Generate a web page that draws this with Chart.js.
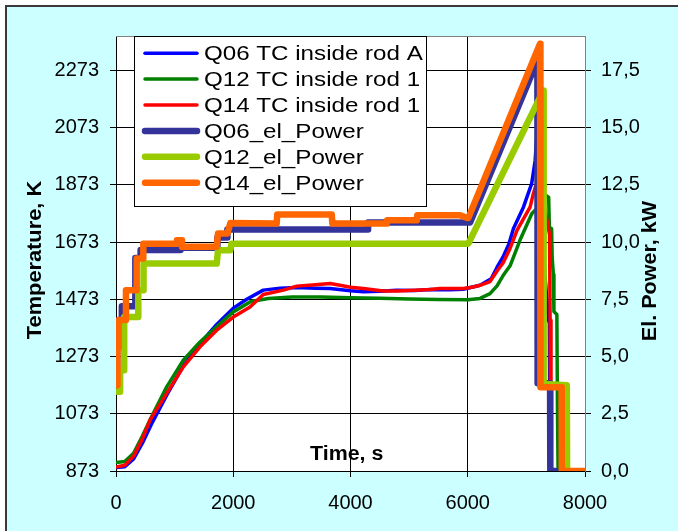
<!DOCTYPE html>
<html><head><meta charset="utf-8">
<script src="https://cdn.jsdelivr.net/npm/chart.js@4.4.0/dist/chart.umd.min.js"></script>
<style>html,body{margin:0;padding:0;background:#fff;}#wrap{position:relative;width:678px;height:532px;}</style>
</head><body><div id="wrap"><canvas id="c"></canvas></div>
<script>
// ---- data (time in s) ----
const seriesLabels = ["Q06 TC inside rod A","Q12 TC inside rod 1","Q14 TC inside rod 1","Q06_el_Power","Q12_el_Power","Q14_el_Power"];
const xTicks = [0,2000,4000,6000,8000];
const tempTicks = [873,1073,1273,1473,1673,1873,2073,2273];
const powerTicks = [0,2.5,5,7.5,10,12.5,15,17.5];

const q06TcTime = [0,150,300,450,600,865,1148,1433,1718,2001,2230,2513,2800,3083,3400,3651,4000,4219,4500,4789,5100,5357,5700,5925,6210,6400,6500,6600,6700,6780,6950,7090,7150,7180,7195,7215,7300,7378,7392,7405];
const q06TcTemp = [885,888,915,970,1035,1138,1240,1318,1385,1442,1473,1505,1512,1514,1512,1511,1503,1499,1501,1505,1504,1507,1506,1508,1522,1545,1585,1620,1665,1720,1795,1877,1958,2050,2070,1850,1600,1400,1390,800];

const q12TcTime = [0,150,300,450,600,865,1148,1433,1718,2001,2300,2600,3000,3500,4000,4500,5000,5500,6000,6210,6380,6500,6600,6722,6892,7092,7200,7340,7380,7392,7430,7440,7460,7470,7520,7530,7545];
const q12TcTemp = [903,906,935,995,1060,1167,1260,1324,1377,1429,1465,1476,1481,1481,1478,1477,1474,1472,1471,1476,1493,1520,1555,1590,1680,1772,1795,1835,1830,1725,1720,1620,1560,1430,1420,1100,800];

const q14TcTime = [0,150,300,450,580,865,1148,1433,1718,2001,2286,2513,2855,3083,3400,3651,3821,4000,4219,4555,4789,5100,5357,5527,5925,6091,6210,6380,6500,6602,6720,6840,7063,7119,7160,7250,7395,7405,7420];
const q14TcTemp = [887,893,925,985,1051,1144,1237,1307,1365,1411,1446,1490,1505,1519,1524,1528,1522,1515,1511,1502,1502,1505,1507,1511,1511,1516,1522,1535,1572,1600,1650,1714,1795,1842,1870,1860,1700,1400,800];

const q06PwTime = [0,20,20,40,40,100,100,330,330,420,420,1100,1100,1730,1730,1900,1900,4300,4300,6040,7188,7192,7404,7408,7500];
const q06PwKw   = [3.85,3.85,5.4,5.4,6.6,6.6,7.2,7.2,9.3,9.3,9.65,9.65,9.75,9.75,10.2,10.2,10.55,10.55,10.85,10.85,17.93,3.83,3.83,0,0];

const q12PwTime = [0,70,70,140,140,380,380,470,470,1718,1740,1950,1970,6010,7290,7295,7690,7695,7750];
const q12PwKw   = [3.46,3.46,4.4,4.4,6.73,6.73,7.9,7.9,9.06,9.06,9.64,9.64,9.93,9.93,16.62,3.8,3.75,0,0];

const q14PwTime = [0,25,25,45,45,170,170,353,353,466,466,1036,1040,1120,1125,1718,1740,1900,1950,2741,2750,3680,3690,4618,4625,5130,5140,5869,5990,6010,7233,7240,7600,7605,8000];
const q14PwKw   = [3.75,3.75,5.37,5.37,6.59,6.59,7.9,7.9,9.28,9.28,9.93,9.93,10.08,10.08,9.79,9.79,10.37,10.37,10.83,10.81,11.2,11.2,10.81,10.81,10.95,10.95,11.17,11.17,11.05,11.05,18.66,3.66,3.66,0,0];

function pts(t, v){ return t.map((x,i)=>({x:x, y:v[i]})); }

const FONT = '"Liberation Sans", Arial, sans-serif';

function ds(label, data, color, width, axis, order){
  return {label, data, borderColor:color, backgroundColor:color, borderWidth:width, yAxisID:axis,
    pointRadius:0, tension:0, order, borderCapStyle:'round', borderJoinStyle:'round', fill:false};
}

const decor = {
  id:'decor',
  beforeDraw(chart){
    const ctx = chart.ctx, a = chart.chartArea, W = chart.width, H = chart.height;
    ctx.save();
    ctx.fillStyle = '#ffffff'; ctx.fillRect(0,0,W,H);
    ctx.fillStyle = '#CCFFFF'; ctx.fillRect(6,6,W-6,H-7);
    ctx.strokeStyle = '#3a3a3a'; ctx.lineWidth = 2;
    ctx.beginPath(); ctx.moveTo(6,H-1); ctx.lineTo(6,6); ctx.lineTo(W,6); ctx.stroke();
    ctx.fillStyle = '#ffffff'; ctx.fillRect(a.left,a.top,a.right-a.left,a.bottom-a.top);
    ctx.restore();
  },
  afterDraw(chart){
    const ctx = chart.ctx, a = chart.chartArea;
    ctx.save();
    ctx.strokeStyle = '#808080'; ctx.lineWidth = 1;
    ctx.beginPath(); ctx.moveTo(a.left, a.top+0.5); ctx.lineTo(a.right, a.top+0.5); ctx.stroke();
    const lx = 134, ly = a.top, lw = 292, lh = 170;
    ctx.fillStyle = '#ffffff'; ctx.fillRect(lx, ly, lw, lh);
    ctx.strokeStyle = '#000000'; ctx.lineWidth = 1;
    ctx.strokeRect(lx+0.5, ly+0.5, lw, lh);
    chart.data.datasets.forEach((d,i)=>{
      const yb = 60 + i*25.9;
      const yl = yb - 6.8;
      ctx.strokeStyle = d.borderColor; ctx.lineWidth = d.borderWidth; ctx.lineCap = 'round';
      ctx.beginPath(); ctx.moveTo(145, yl); ctx.lineTo(197, yl); ctx.stroke();
      ctx.save();
      ctx.translate(204, yb); ctx.scale(1.15, 1);
      ctx.fillStyle = '#000'; ctx.font = '21px ' + FONT; ctx.textAlign = 'left'; ctx.textBaseline = 'alphabetic';
      ctx.fillText(d.label, 0, 0);
      ctx.restore();
    });
    ctx.fillStyle = '#000'; ctx.font = 'bold 20px ' + FONT; ctx.textBaseline = 'alphabetic';
    ctx.save(); ctx.translate(41, 260); ctx.rotate(-Math.PI/2); ctx.scale(1.09,1); ctx.textAlign='center';
    ctx.fillText('Temperature, K', 0, 0); ctx.restore();
    ctx.save(); ctx.translate(656, 271); ctx.rotate(-Math.PI/2); ctx.scale(1.08,1); ctx.textAlign='center';
    ctx.fillText('El. Power, kW', 0, 0); ctx.restore();
    ctx.save(); ctx.translate(310, 460); ctx.scale(1.07,1); ctx.textAlign='left';
    ctx.fillText('Time, s', 0, 0); ctx.restore();
    ctx.restore();
  }
};

new Chart(document.getElementById('c'), {
  type:'line',
  data:{ datasets:[
    ds(seriesLabels[0], pts(q06TcTime,q06TcTemp), '#0000FF', 3.5, 'y', 5),
    ds(seriesLabels[1], pts(q12TcTime,q12TcTemp), '#008000', 3.5, 'y', 4),
    ds(seriesLabels[2], pts(q14TcTime,q14TcTemp), '#FF0000', 3.5, 'y', 3),
    ds(seriesLabels[3], pts(q06PwTime,q06PwKw),  '#333399', 6.5, 'y2', 2),
    ds(seriesLabels[4], pts(q12PwTime,q12PwKw),  '#99CC00', 6.5, 'y2', 1),
    ds(seriesLabels[5], pts(q14PwTime,q14PwKw),  '#FF6600', 6.5, 'y2', 0)
  ]},
  options:{
    responsive:true, maintainAspectRatio:false, animation:false,
    layout:{padding:{top:36,left:0,right:0,bottom:0}},
    plugins:{legend:{display:false}, tooltip:{enabled:false}},
    scales:{
      x:{type:'linear', position:'bottom', min:0, max:8000,
        afterBuildTicks:s=>{ s.ticks = xTicks.map(v=>({value:v})); },
        afterFit:s=>{ s.height = 61; },
        ticks:{font:{family:FONT,size:20}, color:'#000', padding:14, maxRotation:0, autoSkip:false, callback:v=>String(v)},
        grid:{color:c=> (c.tick && c.tick.value===8000) ? '#808080' : '#000', tickColor:'#000', tickLength:6, lineWidth:1},
        border:{color:'#000', width:1}
      },
      y:{type:'linear', position:'left', min:873, max:2393,
        afterBuildTicks:s=>{ s.ticks = tempTicks.map(v=>({value:v})); },
        afterFit:s=>{ s.width = 116; },
        ticks:{font:{family:FONT,size:20}, color:'#000', padding:11, callback:v=>String(v)},
        grid:{color:'#000', tickColor:'#000', tickLength:6, lineWidth:1},
        border:{color:'#000', width:1}
      },
      y2:{type:'linear', position:'right', min:0, max:19,
        afterBuildTicks:s=>{ s.ticks = powerTicks.map(v=>({value:v})); },
        afterFit:s=>{ s.width = 93; },
        ticks:{font:{family:FONT,size:20}, color:'#000', padding:10, callback:v=>v.toFixed(1).replace('.',',')},
        grid:{drawOnChartArea:false, color:'#000', tickColor:'#000', tickLength:6},
        border:{color:'#808080', width:1}
      }
    }
  },
  plugins:[decor]
});
</script>
</body></html>
